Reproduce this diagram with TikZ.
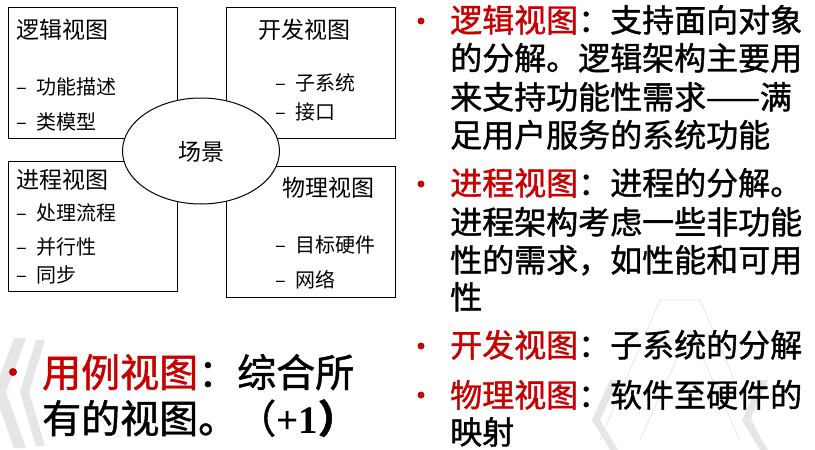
\documentclass[tikz,border=0pt]{standalone}
\usepackage{fontspec}
\setmainfont{Noto Sans CJK SC}
\newfontfamily\hei[FakeBold=1.2]{Noto Sans CJK SC}
\newfontfamily\serb{Liberation Serif}
\usetikzlibrary{shapes.geometric}
\definecolor{darkred}{RGB}{200,0,0}
\definecolor{wm}{RGB}{230,230,230}
\tikzset{
  vbox/.style={draw=black,line width=1pt,fill=white},
  ttl/.style={anchor=base west,inner sep=0pt,font=\fontsize{23}{23}\selectfont},
  itm/.style={anchor=base west,inner sep=0pt,font=\fontsize{20}{20}\selectfont},
  rl/.style={anchor=base west,inner sep=0pt,font=\hei\fontsize{32}{32}\selectfont},
  ll/.style={anchor=base west,inner sep=0pt,font=\hei\fontsize{39}{39}\selectfont},
  dot/.style={circle,fill=darkred,inner sep=0pt,minimum size=7pt},
  hl/.style={text=darkred}
}
\begin{document}
\begin{tikzpicture}[x=1pt,y=-1pt]
\useasboundingbox (0,0) rectangle (815,450);
\fill[white] (0,0) rectangle (815,450);
% faint watermark chevrons
\fill[wm] (14,338) -- (26,338) -- (6,392) -- (26,448) -- (14,448) -- (-6,392) -- cycle;
\fill[wm] (36,340) -- (45,340) -- (29,392) -- (45,446) -- (36,446) -- (20,392) -- cycle;
\draw[wm,line width=0.8pt] (600,440) -- (660,300) -- (700,300) -- (760,440);
\draw[wm,line width=0.8pt] (640,440) -- (690,330) -- (740,440);
\fill[wm] (610,380) -- (618,380) -- (600,420) -- (618,450) -- (610,450) -- (592,420) -- cycle;
\fill[wm] (760,380) -- (768,380) -- (750,420) -- (768,450) -- (760,450) -- (742,420) -- cycle;
% boxes
\node[vbox,minimum width=169pt,minimum height=131pt,inner sep=0pt,anchor=north west] (logic) at (8,7) {};
\node[vbox,minimum width=169pt,minimum height=131pt,inner sep=0pt,anchor=north west] (dev) at (226,7) {};
\node[vbox,minimum width=169pt,minimum height=130pt,inner sep=0pt,anchor=north west] (proc) at (8,161) {};
\node[vbox,minimum width=169pt,minimum height=131pt,inner sep=0pt,anchor=north west] (phys) at (226,166) {};
\node[vbox,ellipse,minimum width=157pt,minimum height=106pt,inner sep=0pt] (scene) at (201,151) {};
\node[anchor=base,inner sep=0pt,font=\fontsize{23}{23}\selectfont] (scenet) at (201,160) {场景};
% logic view
\node[ttl] (lt) at (16,38) {逻辑视图};
\node[itm] (l1d) at (16,94) {–};
\node[itm] (l1) at (36,94) {功能描述};
\node[itm] (l2d) at (16,129) {–};
\node[itm] (l2) at (36,129) {类模型};
% dev view
\node[ttl] (dt) at (258,38) {开发视图};
\node[itm] (d1d) at (275,90) {–};
\node[itm] (d1) at (295,90) {子系统};
\node[itm] (d2d) at (275,119) {–};
\node[itm] (d2) at (295,119) {接口};
% process view
\node[ttl] (pt) at (16,188) {进程视图};
\node[itm] (p1d) at (16,220) {–};
\node[itm] (p1) at (36,220) {处理流程};
\node[itm] (p2d) at (16,254) {–};
\node[itm] (p2) at (36,254) {并行性};
\node[itm] (p3d) at (16,282) {–};
\node[itm] (p3) at (36,282) {同步};
% physical view
\node[ttl] (ht) at (282,196) {物理视图};
\node[itm] (h1d) at (275,252) {–};
\node[itm] (h1) at (295,252) {目标硬件};
\node[itm] (h2d) at (275,287) {–};
\node[itm] (h2) at (295,287) {网络};
% bottom-left
\node[dot,minimum size=8pt] (b0) at (13,372) {};
\node[ll] (u1) at (42,387) {\textcolor{darkred}{用例视图}：综合所};
\node[ll] (u2) at (42,433) {有的视图。（\serb\bfseries +1\hei）};
% right text
\node[dot] (b1) at (421,21) {};
\node[rl] (r1) at (450,32) {\textcolor{darkred}{逻辑视图}：支持面向对象};
\node[rl] (r2) at (450,70) {的分解。逻辑架构主要用};
\node[rl] (r3) at (450,109) {来支持功能性需求——满};
\node[rl] (r4) at (450,147) {足用户服务的系统功能};
\node[dot] (b2) at (421,184) {};
\node[rl] (r5) at (450,195) {\textcolor{darkred}{进程视图}：进程的分解。};
\node[rl] (r6) at (450,234) {进程架构考虑一些非功能};
\node[rl] (r7) at (450,272) {性的需求，如性能和可用};
\node[rl] (r8) at (450,309) {性};
\node[dot] (b3) at (421,346) {};
\node[rl] (r9) at (450,357) {\textcolor{darkred}{开发视图}：子系统的分解};
\node[dot] (b4) at (421,395) {};
\node[rl] (r10) at (450,407) {\textcolor{darkred}{物理视图}：软件至硬件的};
\node[rl] (r11) at (450,444) {映射};
\end{tikzpicture}
\end{document}
